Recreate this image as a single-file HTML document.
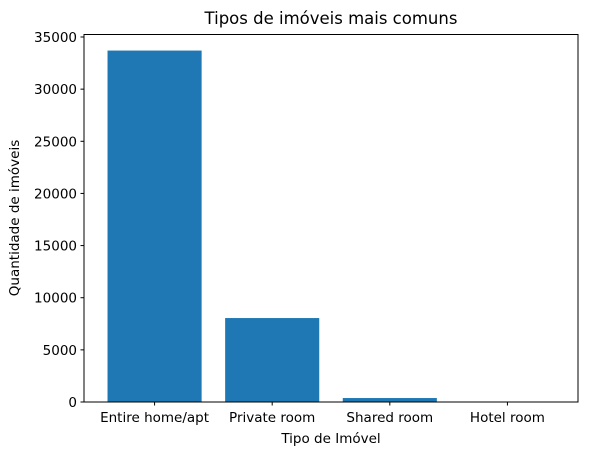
<!DOCTYPE html>
<html><head><meta charset="utf-8"><style>
body{margin:0;background:#fff;}
svg{display:block;font-family:"DejaVu Sans","Liberation Sans",sans-serif;}
</style></head><body>
<svg id="chart" width="589" height="456" xmlns="http://www.w3.org/2000/svg">
<rect width="589" height="456" fill="#fff"/>
<text x="331" y="24" font-size="16.5" text-anchor="middle" fill="#000">Tipos de imóveis mais comuns</text>
<g id="bars"></g>
<g id="yaxis"></g>
<g id="xaxis"></g>
<rect x="84" y="34.5" width="494" height="367.5" fill="none" stroke="#000" stroke-width="1"/>
<text x="331" y="443" font-size="13.5" text-anchor="middle">Tipo de Imóvel</text>
<text transform="translate(19,218) rotate(-90)" font-size="13.5" text-anchor="middle">Quantidade de imóveis</text>
</svg>
<script>
const categories = ["Entire home/apt","Private room","Shared room","Hotel room"];
const values = [33700, 8050, 380, 30];
const yTicks = [0,5000,10000,15000,20000,25000,30000,35000];

const NS="http://www.w3.org/2000/svg";
const L=84,R=578,T=34.5,B=402;
const xmin=-0.6,xmax=categories.length-0.4;
const ymax=35240;
const xs=i=>L+(i-xmin)/(xmax-xmin)*(R-L);
const ys=v=>B-v/ymax*(B-T);
const bw=0.8*(R-L)/(xmax-xmin);
function mk(t,a){const e=document.createElementNS(NS,t);for(const k in a)e.setAttribute(k,a[k]);return e;}
const bars=document.getElementById('bars'),ya=document.getElementById('yaxis'),xa=document.getElementById('xaxis');
values.forEach((v,i)=>{
  const r=mk('rect',{x:xs(i)-bw/2,y:ys(v),width:bw,height:B-ys(v),fill:'#1f77b4'});
  
  
  bars.appendChild(r);
});
yTicks.forEach(t=>{
  const y=ys(t);
  const l=mk('line',{x1:L-3.5,x2:L,y1:y,y2:y,stroke:'#000'});
  
  
  ya.appendChild(l);
  const tx=mk('text',{x:L-7,y:y+5,'font-size':13.5,'text-anchor':'end'});
  tx.textContent=t;
  
  
  ya.appendChild(tx);
});
categories.forEach((c,i)=>{
  const x=xs(i);
  const l=mk('line',{x1:x,x2:x,y1:B,y2:B+3.5,stroke:'#000'});
  
  
  xa.appendChild(l);
  const tx=mk('text',{x:x,y:B+20,'font-size':13.5,'text-anchor':'middle'});
  tx.textContent=c;
  
  
  xa.appendChild(tx);
});
</script>
</body></html>
